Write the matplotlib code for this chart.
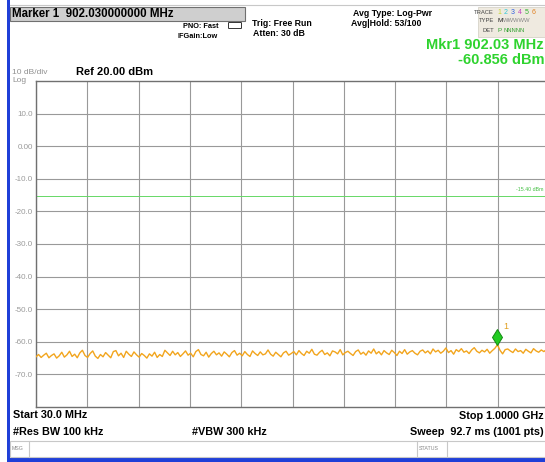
import numpy as np
import matplotlib
matplotlib.use("Agg")
import matplotlib.pyplot as plt
import matplotlib.patches as patches
import matplotlib.transforms as mtransforms

plt.rcParams['font.family'] = ['Liberation Sans', 'DejaVu Sans']

# Sweep settings (from the screen annotations)
START_MHZ = 30.0
STOP_MHZ = 1000.0
REF_LEVEL = 20.0
DB_PER_DIV = 10.0
DISPLAY_LINE = -15.40
MKR_FREQ = 902.03
MKR_LEVEL = -60.856

Y_TICKS = [10, 0, -10, -20, -30, -40, -50, -60, -70]
Y_LABELS = ["10.0", "0.00", "-10.0", "-20.0", "-30.0", "-40.0", "-50.0", "-60.0", "-70.0"]

# trace (dBm), evenly spaced over the sweep
TRACE_DBM = [
    -64.6, -63.9, -64.8, -64.1, -63.5, -64.9, -64.2, -63.7, -65.0, -64.3,
    -63.2, -64.7, -64.0, -62.9, -64.5, -63.8, -64.9, -63.4, -62.6, -64.2,
    -64.8, -63.6, -62.8, -64.4, -65.1, -63.9, -64.6, -63.3, -64.1, -64.9,
    -63.0, -62.7, -64.3, -63.5, -64.8, -62.9, -63.8, -64.5, -63.1, -64.0,
    -64.7, -63.6, -64.2, -65.0, -63.7, -64.4, -63.2, -64.8, -63.9, -64.5,
    -62.6, -63.4, -64.2, -62.9, -64.0, -63.3, -64.5, -63.7, -62.8, -64.1,
    -63.5, -64.6, -63.0, -62.4, -63.9, -64.3, -63.2, -64.7, -63.6, -62.9,
    -64.0, -63.4, -64.4, -63.1, -63.8, -64.6, -63.3, -62.7, -64.1, -63.5,
    -64.3, -63.0, -63.9, -64.5, -62.8, -63.6, -64.2, -63.1, -64.0, -63.7,
    -62.5, -63.8, -64.4, -63.2, -63.9, -64.6, -63.4, -62.9, -64.1, -63.6,
    -63.0, -64.0, -62.7, -63.6, -64.2, -62.9, -63.5, -62.3, -63.8, -64.1,
    -63.2, -62.6, -63.9, -63.4, -64.3, -62.8, -63.1, -63.7, -62.4, -64.0,
    -63.3, -62.9, -63.6, -64.2, -63.0, -62.5, -63.8, -63.2, -64.1, -62.8,
    -63.5, -62.2, -63.7, -63.0, -64.0, -62.7, -63.4, -63.9, -62.6, -63.3,
    -64.2, -62.9, -63.6, -62.4, -63.8, -63.1, -62.7, -63.5, -64.0, -62.9,
    -62.5, -63.4, -62.8, -63.7, -62.2, -63.1, -62.6, -63.5, -62.9, -61.9,
    -63.3, -62.7, -63.8, -62.4, -63.0, -62.1, -63.2, -62.8, -63.6, -62.5,
    -61.8, -62.9, -63.4, -62.6, -63.1, -62.3, -63.5, -62.7, -62.0, -60.9,
    -62.6, -63.7, -62.4, -62.2, -62.8, -63.3, -62.2, -63.0, -62.7, -63.5,
    -62.3, -62.9, -63.4, -62.1, -62.8, -63.2, -62.5, -63.0, -62.4, -62.9,
]

W, H = 545, 462
GREEN = "#2ed32e"
TRACE_COLOR = "#f2a51d"

fig = plt.figure(figsize=(W / 100, H / 100), dpi=100)
fig.patch.set_facecolor("white")

# overlay in pixel coordinates for the instrument chrome
ov = fig.add_axes([0, 0, 1, 1], zorder=0)
ov.set_xlim(0, W)
ov.set_ylim(H, 0)
ov.axis("off")

# top strip + blue window frame
ov.plot([10, W], [5, 5], color="#c8c8c8", lw=0.8)
ov.add_patch(patches.Rectangle((7, 0), 3, H, color="#1f3fd8", lw=0))
ov.add_patch(patches.Rectangle((7, 458), W, 4, color="#1f3fd8", lw=0))

# marker readout box
ov.add_patch(patches.Rectangle((10, 7), 235, 14, facecolor="#cfcfcf", edgecolor="#707070", lw=0.8))
ov.text(12, 14, "Marker 1  902.030000000 MHz", fontsize=8.3, fontweight="bold", va="center")

ov.text(183, 26, "PNO: Fast", fontsize=5.3, fontweight="bold", va="center")
ov.text(178, 36, "IFGain:Low", fontsize=5.3, fontweight="bold", va="center")
ov.add_patch(patches.FancyBboxPatch((229, 23), 12, 5, boxstyle="round,pad=0.5",
                                    facecolor="white", edgecolor="#333333", lw=0.7))
ov.text(252, 24, "Trig: Free Run", fontsize=6.3, fontweight="bold", va="center")
ov.text(253, 34, "Atten: 30 dB", fontsize=6.3, fontweight="bold", va="center")
ov.text(353, 13, "Avg Type: Log-Pwr", fontsize=6.3, fontweight="bold", va="center")
ov.text(351, 23, "Avg|Hold: 53/100", fontsize=6.3, fontweight="bold", va="center")

# trace info box
ov.add_patch(patches.Rectangle((478, 7), 70, 30, facecolor="#efeae0", edgecolor="#d0ccc0", lw=0.5))
ov.text(494, 12, "TRACE", fontsize=4.2, ha="right", va="center", color="#444444")
ov.text(494, 21, "TYPE", fontsize=4.2, ha="right", va="center", color="#444444")
ov.text(494, 30, "DET", fontsize=4.2, ha="right", va="center", color="#444444")
trace_cols = ["#c8d830", "#30c8d8", "#3060e0", "#c040c0", "#30b030", "#e08020"]
for i, c in enumerate(trace_cols):
    ov.text(497 + i * 7, 12, str(i + 1), fontsize=5, va="center", color=c)
ov.text(497, 21, "M", fontsize=4.6, va="center", color="#222222")
ov.text(503, 21, "WWWWW", fontsize=4.2, va="center", color="#888888")
ov.text(497, 30, "P", fontsize=4.6, va="center", color="#30a030")
ov.text(503, 30, "NNNNN", fontsize=4.2, va="center", color="#30a030")

ov.text(544, 45, "Mkr1 902.03 MHz", fontsize=10.5, fontweight="bold", color=GREEN, ha="right", va="center")
ov.text(544, 60, f"{MKR_LEVEL:.3f} dBm", fontsize=10.5, fontweight="bold", color=GREEN, ha="right", va="center")

ov.text(12, 72, "10 dB/div", fontsize=6, color="#909090", va="center")
ov.text(12, 80, "Log", fontsize=6, color="#909090", va="center")
ov.text(76, 72, "Ref 20.00 dBm", fontsize=8, fontweight="bold", va="center")

# bottom annotations
ov.text(13, 415, "Start 30.0 MHz", fontsize=7.8, fontweight="bold", va="center")
ov.text(13, 432, "#Res BW 100 kHz", fontsize=7.8, fontweight="bold", va="center")
ov.text(192, 432, "#VBW 300 kHz", fontsize=7.8, fontweight="bold", va="center")
ov.text(544, 416, "Stop 1.0000 GHz", fontsize=7.8, fontweight="bold", ha="right", va="center")
ov.text(544, 432, "Sweep  92.7 ms (1001 pts)", fontsize=7.8, fontweight="bold", ha="right", va="center")

# message / status bar
ov.add_patch(patches.Rectangle((10, 441), W, 16, facecolor="white", edgecolor="#c8c8c8", lw=0.8))
ov.plot([29, 29], [441, 457], color="#c8c8c8", lw=0.8)
ov.plot([417, 417], [441, 457], color="#c8c8c8", lw=0.8)
ov.plot([447, 447], [441, 457], color="#c8c8c8", lw=0.8)
ov.text(12, 449, "MSG", fontsize=3.8, color="#888888", va="center")
ov.text(419, 449, "STATUS", fontsize=3.8, color="#888888", va="center")

# graticule: 36..549 px wide, 81..407 px tall
left, right, top, bottom = 36, 549, 81, 407
ax = fig.add_axes([left / W, 1 - bottom / H, (right - left) / W, (bottom - top) / H], zorder=1)
ax.set_facecolor("white")

freqs = np.linspace(START_MHZ, STOP_MHZ, len(TRACE_DBM))
ax.plot(freqs, TRACE_DBM, color=TRACE_COLOR, lw=1.0, zorder=3)

ax.axhline(DISPLAY_LINE, color="#66d866", lw=0.7, zorder=2)
ax.text(990, DISPLAY_LINE + 1.4, f"{DISPLAY_LINE:.2f} dBm", fontsize=3.8, color="#44c044",
        ha="right", va="bottom", clip_on=True)

# marker diamond sits just above the trace point
off = mtransforms.offset_copy(ax.transData, fig=fig, x=0, y=7.5, units="dots")
ax.plot([MKR_FREQ], [MKR_LEVEL], marker="d", markersize=8.5, markerfacecolor="#22cc22",
        markeredgecolor="#128a12", markeredgewidth=0.7, transform=off, zorder=4)
ax.annotate("1", (MKR_FREQ, MKR_LEVEL), xytext=(4.5, 11), textcoords="offset points",
            fontsize=6.5, color="#e0a020", zorder=4)

ax.set_xlim(START_MHZ, STOP_MHZ)
ax.set_ylim(REF_LEVEL - 10 * DB_PER_DIV, REF_LEVEL)
ax.set_xticks(np.linspace(START_MHZ, STOP_MHZ, 11))
ax.set_xticklabels([])
ax.set_yticks(Y_TICKS)
ax.set_yticklabels(Y_LABELS)
ax.tick_params(axis="both", length=0)
ax.tick_params(axis="y", pad=2.2, labelsize=5.8, labelcolor="#9a9a9a")
ax.grid(True, color="#999999", lw=0.8)
for s in ax.spines.values():
    s.set_color("#707070")
    s.set_linewidth(1.0)

fig.savefig("out.png", dpi=100)
